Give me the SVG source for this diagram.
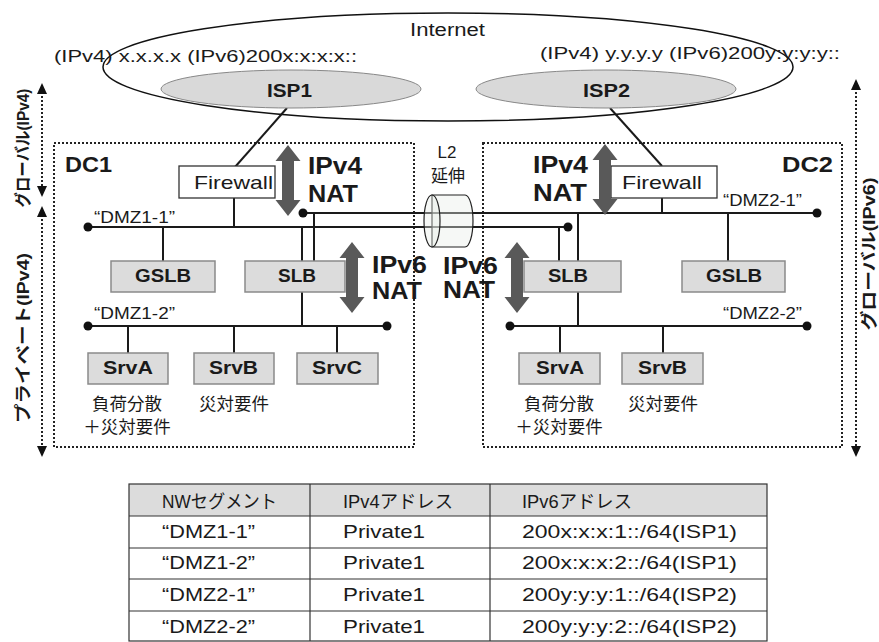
<svg xmlns="http://www.w3.org/2000/svg" width="879" height="642" viewBox="0 0 879 642">
<style>
text{font-family:"Liberation Sans","Noto Sans CJK JP",sans-serif;fill:#1a1a1a}
.b{font-weight:bold}
.net{fill:none;stroke:#1a1a1a;stroke-width:2}
.dc{fill:none;stroke:#222;stroke-width:2;stroke-dasharray:2 2}
.dev{fill:#dcdcdc;stroke:#8a8a8a;stroke-width:1.5}
.fw{fill:#fff;stroke:#333;stroke-width:1.3}
.isp{fill:#d9d9d9;stroke:#888;stroke-width:1}
.nat{fill:#595959}
.dot{fill:#111}
.tb{fill:none;stroke:#333;stroke-width:1.2}
.jp{font-size:17.5px;text-anchor:middle}
.side{fill:none;stroke:#222;stroke-width:2;stroke-dasharray:2 2}
.tri{fill:#111}
</style>

<g id="internet">
<ellipse cx="448" cy="67" rx="345" ry="54" fill="none" stroke="#111" stroke-width="1.5"/>
<text x="410" y="36" font-size="18" textLength="75" lengthAdjust="spacingAndGlyphs">Internet</text>
<text x="54" y="62" font-size="17" textLength="303" lengthAdjust="spacingAndGlyphs">(IPv4) x.x.x.x (IPv6)200x:x:x:x::</text>
<text x="540" y="59" font-size="17" textLength="300" lengthAdjust="spacingAndGlyphs">(IPv4) y.y.y.y (IPv6)200y:y:y:y::</text>
</g>

<g id="dc1-box"><rect class="dc" x="54" y="143" width="360" height="304"/><text class="b" x="65" y="172" font-size="22" textLength="47" lengthAdjust="spacingAndGlyphs">DC1</text></g>
<g id="dc2-box"><rect class="dc" x="483" y="143" width="359" height="304"/><text class="b" x="782" y="172" font-size="22" textLength="51" lengthAdjust="spacingAndGlyphs">DC2</text></g>

<g id="connectors">
<line class="net" x1="287" y1="108" x2="235" y2="167"/>
<line class="net" x1="610" y1="108" x2="662" y2="166"/>
<line class="net" x1="88" y1="227" x2="568" y2="227"/>
<line class="net" x1="303" y1="213" x2="817" y2="213"/>
<line class="net" x1="234" y1="198" x2="234" y2="227"/>
<line class="net" x1="163" y1="227" x2="163" y2="261"/>
<line class="net" x1="314" y1="213" x2="314" y2="261"/>
<line class="net" x1="302" y1="227" x2="302" y2="326"/>
<line class="net" x1="662" y1="198" x2="662" y2="213"/>
<line class="net" x1="728" y1="213" x2="728" y2="261"/>
<line class="net" x1="559" y1="227" x2="559" y2="261"/>
<line class="net" x1="578" y1="213" x2="578" y2="326"/>
<line class="net" x1="88" y1="326" x2="387" y2="326"/>
<line class="net" x1="128" y1="326" x2="128" y2="353"/>
<line class="net" x1="234" y1="326" x2="234" y2="353"/>
<line class="net" x1="337" y1="326" x2="337" y2="353"/>
<line class="net" x1="510" y1="326" x2="807" y2="326"/>
<line class="net" x1="560" y1="326" x2="560" y2="353"/>
<line class="net" x1="663" y1="326" x2="663" y2="353"/>
<circle class="dot" cx="88" cy="227" r="4.5"/>
<circle class="dot" cx="568" cy="227" r="4.5"/>
<circle class="dot" cx="303" cy="213" r="4.5"/>
<circle class="dot" cx="817" cy="213" r="4.5"/>
<circle class="dot" cx="88" cy="326" r="4.5"/>
<circle class="dot" cx="387" cy="326" r="4.5"/>
<circle class="dot" cx="510" cy="326" r="4.5"/>
<circle class="dot" cx="807" cy="326" r="4.5"/>
</g>

<g id="isp1"><ellipse class="isp" cx="291" cy="89" rx="130" ry="19"/><text class="b" x="267" y="97" font-size="19" textLength="45" lengthAdjust="spacingAndGlyphs">ISP1</text></g>
<g id="isp2"><ellipse class="isp" cx="606" cy="89" rx="130" ry="19"/><text class="b" x="583" y="97" font-size="19" textLength="47" lengthAdjust="spacingAndGlyphs">ISP2</text></g>

<g id="l2">
<path d="M432,195 L465,195 A8,26 0 0 1 465,247 L432,247 Z" fill="#e8eee9" fill-opacity="0.4" stroke="#222" stroke-width="1.2"/>
<ellipse cx="432" cy="221" rx="8" ry="26" fill="#e8eee9" fill-opacity="0.4" stroke="#222" stroke-width="1.2"/>
<text x="447" y="158" font-size="17" text-anchor="middle">L2</text>
<text x="448" y="182" font-size="17" text-anchor="middle">延伸</text>
</g>

<g id="fw1"><rect class="fw" x="179" y="166" width="96" height="32"/><text x="194" y="189" font-size="18.5" textLength="79" lengthAdjust="spacingAndGlyphs">Firewall</text></g>
<g id="fw2"><rect class="fw" x="611" y="166" width="106" height="32"/><text x="622" y="189" font-size="18.5" textLength="80" lengthAdjust="spacingAndGlyphs">Firewall</text></g>

<g id="dmz-labels">
<text x="94" y="223" font-size="16" textLength="81" lengthAdjust="spacingAndGlyphs">“DMZ1-1”</text>
<text x="94" y="319" font-size="16" textLength="81" lengthAdjust="spacingAndGlyphs">“DMZ1-2”</text>
<text x="723" y="206" font-size="16" textLength="79" lengthAdjust="spacingAndGlyphs">“DMZ2-1”</text>
<text x="723" y="319" font-size="16" textLength="79" lengthAdjust="spacingAndGlyphs">“DMZ2-2”</text>
</g>

<g id="gslb1"><rect class="dev" x="111" y="261" width="104" height="31"/><text class="b" x="135" y="282" font-size="19" textLength="56" lengthAdjust="spacingAndGlyphs">GSLB</text></g>
<g id="slb1"><rect class="dev" x="245" y="261" width="100" height="31"/><text class="b" x="278" y="282" font-size="19" textLength="38" lengthAdjust="spacingAndGlyphs">SLB</text></g>
<g id="slb2"><rect class="dev" x="524" y="261" width="97" height="31"/><text class="b" x="548" y="282" font-size="19" textLength="40" lengthAdjust="spacingAndGlyphs">SLB</text></g>
<g id="gslb2"><rect class="dev" x="682" y="261" width="103" height="31"/><text class="b" x="706" y="282" font-size="19" textLength="56" lengthAdjust="spacingAndGlyphs">GSLB</text></g>

<g id="srva1"><rect class="dev" x="88" y="353" width="80" height="31"/><text class="b" x="103" y="374" font-size="19" textLength="50" lengthAdjust="spacingAndGlyphs">SrvA</text>
<text class="jp" x="127" y="410">負荷分散</text><text class="jp" x="127" y="433">＋災対要件</text></g>
<g id="srvb1"><rect class="dev" x="194" y="353" width="80" height="31"/><text class="b" x="209" y="374" font-size="19" textLength="49" lengthAdjust="spacingAndGlyphs">SrvB</text>
<text class="jp" x="234" y="410">災対要件</text></g>
<g id="srvc1"><rect class="dev" x="297" y="353" width="81" height="31"/><text class="b" x="312" y="374" font-size="19" textLength="50" lengthAdjust="spacingAndGlyphs">SrvC</text></g>
<g id="srva2"><rect class="dev" x="519" y="353" width="81" height="31"/><text class="b" x="536" y="374" font-size="19" textLength="48" lengthAdjust="spacingAndGlyphs">SrvA</text>
<text class="jp" x="559" y="410">負荷分散</text><text class="jp" x="559" y="433">＋災対要件</text></g>
<g id="srvb2"><rect class="dev" x="622" y="353" width="81" height="31"/><text class="b" x="638" y="374" font-size="19" textLength="49" lengthAdjust="spacingAndGlyphs">SrvB</text>
<text class="jp" x="663" y="410">災対要件</text></g>

<g id="nat-ipv4-dc1">
<path class="nat" d="M288,145 L300.5,161 L294,161 L294,200 L300.5,200 L288,216 L275.5,200 L282,200 L282,161 L275.5,161 Z"/>
<text class="b" x="308" y="174" font-size="23" textLength="54" lengthAdjust="spacingAndGlyphs">IPv4</text>
<text class="b" x="308" y="202" font-size="23" textLength="50" lengthAdjust="spacingAndGlyphs">NAT</text>
</g>
<g id="nat-ipv6-dc1">
<path class="nat" d="M352,242 L364.5,258 L358,258 L358,297 L364.5,297 L352,313 L339.5,297 L346,297 L346,258 L339.5,258 Z"/>
<text class="b" x="372" y="273" font-size="23" textLength="55" lengthAdjust="spacingAndGlyphs">IPv6</text>
<text class="b" x="372" y="299" font-size="23" textLength="50" lengthAdjust="spacingAndGlyphs">NAT</text>
</g>
<g id="nat-ipv6-dc2">
<path class="nat" d="M517,242 L529.5,258 L523,258 L523,297 L529.5,297 L517,313 L504.5,297 L511,297 L511,258 L504.5,258 Z"/>
<text class="b" x="443" y="274" font-size="23" textLength="55" lengthAdjust="spacingAndGlyphs">IPv6</text>
<text class="b" x="443" y="298" font-size="23" textLength="52" lengthAdjust="spacingAndGlyphs">NAT</text>
</g>
<g id="nat-ipv4-dc2">
<path class="nat" d="M605,144 L617.5,160 L611,160 L611,199 L617.5,199 L605,215 L592.5,199 L599,199 L599,160 L592.5,160 Z"/>
<text class="b" x="533" y="173" font-size="23" textLength="55" lengthAdjust="spacingAndGlyphs">IPv4</text>
<text class="b" x="533" y="201" font-size="23" textLength="54" lengthAdjust="spacingAndGlyphs">NAT</text>
</g>

<g id="side-left-global">
<line class="side" x1="42" y1="92" x2="42" y2="188"/>
<polygon class="tri" points="42,83 37,94 47,94"/>
<polygon class="tri" points="42,197 37,186 47,186"/>
<text class="b" transform="translate(29,148) rotate(-90)" font-size="17" text-anchor="middle" textLength="119" lengthAdjust="spacingAndGlyphs">グローバル(IPv4)</text>
</g>
<g id="side-left-private">
<line class="side" x1="42" y1="215" x2="42" y2="448"/>
<polygon class="tri" points="42,206 37,217 47,217"/>
<polygon class="tri" points="42,457 37,446 47,446"/>
<text class="b" transform="translate(29,338) rotate(-90)" font-size="17" text-anchor="middle" textLength="170" lengthAdjust="spacingAndGlyphs">プライベート(IPv4)</text>
</g>
<g id="side-right-global">
<line class="side" x1="856" y1="88" x2="856" y2="448"/>
<polygon class="tri" points="856,79 851,90 861,90"/>
<polygon class="tri" points="856,457 851,446 861,446"/>
<text class="b" transform="translate(875,254) rotate(-90)" font-size="16.5" text-anchor="middle" textLength="153" lengthAdjust="spacingAndGlyphs">グローバル(IPv6)</text>
</g>

<g id="table">
<rect x="129" y="484" width="638" height="32" fill="#dcdcdc"/>
<rect class="tb" x="129" y="484" width="638" height="157"/>
<line class="tb" x1="129" y1="516" x2="767" y2="516"/>
<line class="tb" x1="129" y1="548" x2="767" y2="548"/>
<line class="tb" x1="129" y1="579" x2="767" y2="579"/>
<line class="tb" x1="129" y1="611" x2="767" y2="611"/>
<line class="tb" x1="310" y1="484" x2="310" y2="641"/>
<line class="tb" x1="490" y1="484" x2="490" y2="641"/>
<g font-size="18.5">
<text x="162" y="508" textLength="115" lengthAdjust="spacingAndGlyphs">NWセグメント</text>
<text x="343" y="508" textLength="110" lengthAdjust="spacingAndGlyphs">IPv4アドレス</text>
<text x="522" y="508" textLength="110" lengthAdjust="spacingAndGlyphs">IPv6アドレス</text>
<text x="162" y="538" textLength="93" lengthAdjust="spacingAndGlyphs">“DMZ1-1”</text>
<text x="343" y="538" textLength="82" lengthAdjust="spacingAndGlyphs">Private1</text>
<text x="522" y="538" textLength="215" lengthAdjust="spacingAndGlyphs">200x:x:x:1::/64(ISP1)</text>
<text x="162" y="569" textLength="93" lengthAdjust="spacingAndGlyphs">“DMZ1-2”</text>
<text x="343" y="569" textLength="82" lengthAdjust="spacingAndGlyphs">Private1</text>
<text x="522" y="569" textLength="215" lengthAdjust="spacingAndGlyphs">200x:x:x:2::/64(ISP1)</text>
<text x="162" y="601" textLength="93" lengthAdjust="spacingAndGlyphs">“DMZ2-1”</text>
<text x="343" y="601" textLength="82" lengthAdjust="spacingAndGlyphs">Private1</text>
<text x="522" y="601" textLength="215" lengthAdjust="spacingAndGlyphs">200y:y:y:1::/64(ISP2)</text>
<text x="162" y="633" textLength="93" lengthAdjust="spacingAndGlyphs">“DMZ2-2”</text>
<text x="343" y="633" textLength="82" lengthAdjust="spacingAndGlyphs">Private1</text>
<text x="522" y="633" textLength="215" lengthAdjust="spacingAndGlyphs">200y:y:y:2::/64(ISP2)</text>
</g>
</g>
</svg>
